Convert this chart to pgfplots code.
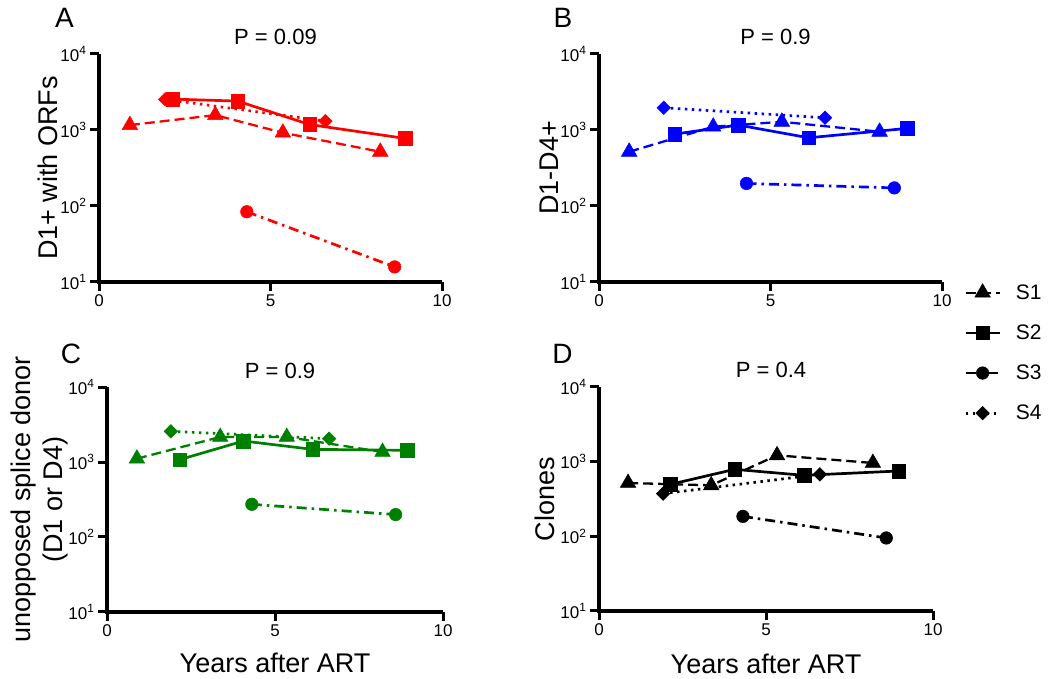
\documentclass[border=0pt]{standalone}
\usepackage{pgfplots}
\pgfplotsset{compat=1.18}
\usepackage{fontspec}
\setmainfont{Liberation Sans}
\definecolor{pgreen}{RGB}{0,128,0}
\newcommand{\axisframe}{%
  \draw[line width=4pt, line join=miter, black] (rel axis cs:0,1) -- (rel axis cs:0,0) -- (rel axis cs:1,0);
  \draw[line width=3pt, black] (axis cs:0,10) -- ++(0pt,-9pt);
  \draw[line width=3pt, black] (axis cs:5,10) -- ++(0pt,-9pt);
  \draw[line width=3pt, black] (axis cs:10,10) -- ++(0pt,-9pt);
  \draw[line width=3pt, black] (axis cs:0,10) -- ++(-9pt,0pt);
  \draw[line width=3pt, black] (axis cs:0,100) -- ++(-9pt,0pt);
  \draw[line width=3pt, black] (axis cs:0,1000) -- ++(-9pt,0pt);
  \draw[line width=3pt, black] (axis cs:0,10000) -- ++(-9pt,0pt);
}
\pgfplotsset{
  panel/.style={
    scale only axis,
    anchor=south west,
    xmin=0, xmax=10, ymin=10, ymax=10000,
    axis x line*=bottom, axis y line*=left,
    axis line style={-, black},
    xtick={0,5,10}, xticklabels={0,5,10},
    ytick={10,100,1000,10000},
    yticklabels={10\textsuperscript{1},10\textsuperscript{2},10\textsuperscript{3},10\textsuperscript{4}},
    yminorticks=false, xminorticks=false,
    tick align=outside,
    major tick length=9pt,
    tick style={black},
    tick label style={font=\fontsize{17}{20}\selectfont},
    label style={font=\fontsize{27}{32}\selectfont},
    title style={at={(axis description cs:0.5,1)}, anchor=base, yshift=3pt, xshift=5pt, font=\fontsize{22}{26}\selectfont},
    clip=false,
  },
  sone/.style={line width=2.3pt, dash pattern=on 10pt off 5pt, mark=triangle*, mark size=9pt, mark options={solid, line width=0.5pt}},
  stwo/.style={line width=2.7pt, solid, mark=square*, mark size=6.8pt, mark options={solid, line width=0.5pt}},
  sthree/.style={line width=2.7pt, dash pattern=on 10pt off 5pt on 2.5pt off 5pt, mark=*, mark size=6.3pt, mark options={solid, line width=0.5pt}},
  sfour/.style={line width=2.7pt, dash pattern=on 2.5pt off 4.5pt, mark=square*, mark size=4.8pt, mark options={solid, rotate=45, line width=0.5pt}},
}
\begin{document}
\begin{tikzpicture}
\useasboundingbox (0pt,0pt) rectangle (1051pt,679pt);
% Panel A
\begin{semilogyaxis}[panel, at={(99pt,397pt)}, width=343pt, height=228pt,
  title={P = 0.09},
  ylabel={D1+ with ORFs},
  ylabel style={at={(axis description cs:-0.149,0.5)}, anchor=center}]
\addplot[red, sone] coordinates {(0.90,1160) (3.39,1570) (5.36,920) (8.20,517)};
\addplot[red, stwo] coordinates {(2.15,2550) (4.04,2400) (6.14,1180) (8.93,774)};
\addplot[red, sthree] coordinates {(4.31,84) (8.62,15.8)};
\addplot[red, sfour] coordinates {(1.93,2530) (6.60,1310)};
\axisframe
\end{semilogyaxis}
% Panel B
\begin{semilogyaxis}[panel, at={(599pt,397pt)}, width=343pt, height=228pt,
  title={P = 0.9},
  ylabel={D1-D4+},
  ylabel style={at={(axis description cs:-0.146,0.5)}, anchor=center}]
\addplot[blue, sone] coordinates {(0.88,517) (3.33,1104) (5.33,1283) (8.18,948)};
\addplot[blue, stwo] coordinates {(2.21,883) (4.06,1162) (6.11,790) (8.98,1049)};
\addplot[blue, sthree] coordinates {(4.30,198) (8.61,173)};
\addplot[blue, sfour] coordinates {(1.89,1963) (6.59,1449)};
\axisframe
\end{semilogyaxis}
% Panel C
\begin{semilogyaxis}[panel, at={(107pt,67pt)}, width=336pt, height=225pt,
  title={P = 0.9},
  ylabel={unopposed splice donor\\(D1 or D4)},
  ylabel style={at={(axis description cs:-0.2,0.5)}, anchor=center, align=center},
  xlabel={Years after ART},
  xlabel style={at={(axis description cs:0.5,-0.271)}, anchor=base}]
\addplot[pgreen, sone] coordinates {(0.89,1108) (3.37,2155) (5.35,2155) (8.20,1360)};
\addplot[pgreen, stwo] coordinates {(2.16,1074) (4.06,1905) (6.12,1475) (8.93,1432)};
\addplot[pgreen, sthree] coordinates {(4.31,273) (8.59,199)};
\addplot[pgreen, sfour] coordinates {(1.90,2563) (6.61,2047)};
\axisframe
\end{semilogyaxis}
% Panel D
\begin{semilogyaxis}[panel, at={(599pt,68pt)}, width=334pt, height=224pt,
  title={P = 0.4},
  ylabel={Clones},
  ylabel style={at={(axis description cs:-0.162,0.5)}, anchor=center},
  xlabel={Years after ART},
  xlabel style={at={(axis description cs:0.5,-0.277)}, anchor=base},
  legend image code/.code={\draw[mark repeat=2,mark phase=2,#1] plot coordinates {(0pt,0pt) (17pt,0pt) (34pt,0pt)};},
  legend style={draw=none, fill=none, at={(axis description cs:1.093,1.154)}, anchor=west,
    font=\fontsize{21}{25}\selectfont, row sep=24pt, inner sep=0pt,
    nodes={inner sep=0pt, anchor=west},
    /tikz/every odd column/.append style={column sep=15pt}},
  legend cell align=left]
\addplot[black, sone] coordinates {(0.87,518) (3.36,482) (5.33,1216) (8.20,960)};
\addlegendentry{S1}
\addplot[black, stwo] coordinates {(2.14,497) (4.06,789) (6.14,656) (8.98,750)};
\addlegendentry{S2}
\addplot[black, sthree] coordinates {(4.31,185) (8.60,95)};
\addlegendentry{S3}
\addplot[black, sfour] coordinates {(1.92,373) (6.61,676)};
\addlegendentry{S4}
\axisframe
\end{semilogyaxis}
% Panel letters
\node[font=\fontsize{28}{32}\selectfont] at (64.5pt,661pt) {A};
\node[font=\fontsize{28}{32}\selectfont] at (563pt,661pt) {B};
\node[font=\fontsize{28}{32}\selectfont] at (71pt,325pt) {C};
\node[font=\fontsize{28}{32}\selectfont] at (562.5pt,325.5pt) {D};
\end{tikzpicture}
\end{document}
